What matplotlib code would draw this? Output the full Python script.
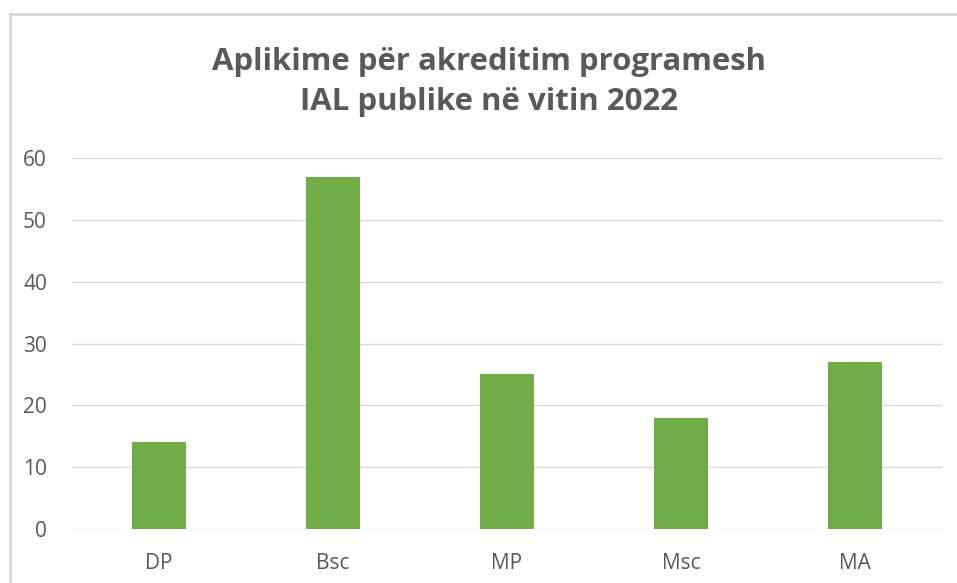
import matplotlib.pyplot as plt
from matplotlib.lines import Line2D

categories = ["DP", "Bsc", "MP", "Msc", "MA"]
values = [14, 57, 25, 18, 27]
yticks = [0, 10, 20, 30, 40, 50, 60]
title = "Aplikime për akreditim programesh\nIAL publike në vitin 2022"

plt.rcParams['font.family'] = ['Open Sans', 'DejaVu Sans']

fig = plt.figure(figsize=(9.57, 5.83), dpi=100)
W, H = 957, 583
ax = fig.add_axes([72 / W, 1 - 529 / H, (942 - 72) / W, (529 - 158) / H])

ax.bar(range(len(categories)), values, width=0.31, color="#70AD47", zorder=3)
ax.set_xlim(-0.5, len(categories) - 0.5)
ax.set_ylim(0, 60)
ax.set_yticks(yticks)
ax.set_xticks(range(len(categories)))
ax.set_xticklabels(categories)
ax.grid(axis='y', color="#D9D9D9", linewidth=1, zorder=0)
for s in ax.spines.values():
    s.set_visible(False)
ax.tick_params(axis='both', length=0, labelsize=15, colors="#595959")
ax.tick_params(axis='y', pad=18)
ax.tick_params(axis='x', pad=17)

fig.text(489 / W, 1 - 82 / H, title, ha='center', va='center', fontsize=22.4,
         fontweight='bold', color="#595959", linespacing=1.45)

# chart frame (left and top edges)
fig.add_artist(Line2D([9.5 / W, 9.5 / W], [0, 1 - 14 / H], color="#D9D9D9", linewidth=2,
                      transform=fig.transFigure))
fig.add_artist(Line2D([9.5 / W, 1], [1 - 14 / H, 1 - 14 / H], color="#D9D9D9", linewidth=2,
                      transform=fig.transFigure))

fig.savefig("out.png", dpi=100)
